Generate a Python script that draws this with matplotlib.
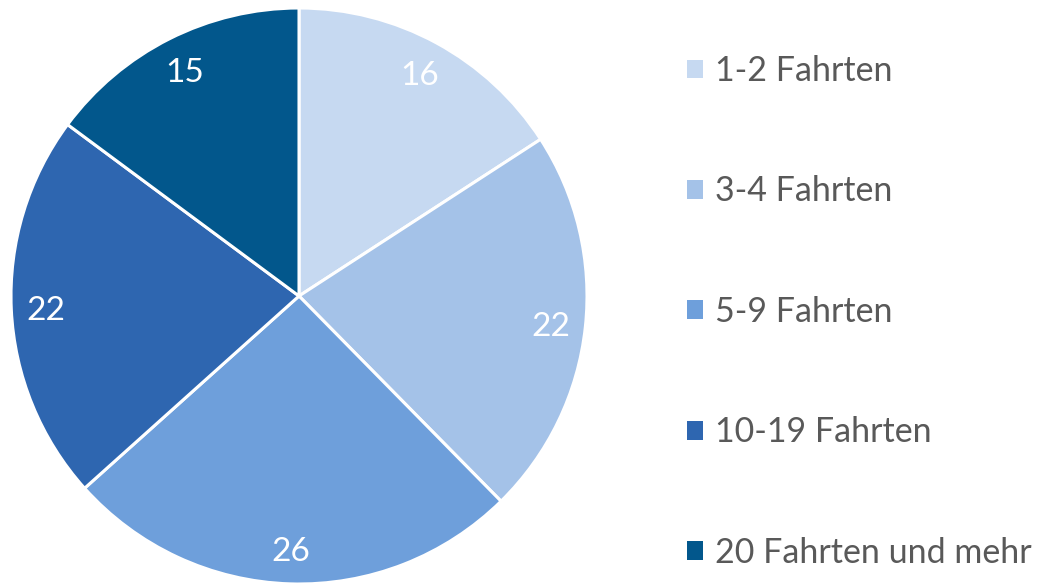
import matplotlib
matplotlib.use("Agg")
import matplotlib.pyplot as plt
from matplotlib.patches import Patch

categories = ["1-2 Fahrten", "3-4 Fahrten", "5-9 Fahrten", "10-19 Fahrten", "20 Fahrten und mehr"]
values = [16, 22, 26, 22, 15]
colors = ["#C6D9F1", "#A4C2E8", "#6E9FDB", "#2E66B0", "#02578C"]

plt.rcParams['font.family'] = ['Lato', 'DejaVu Sans']

W, H = 1039, 584
fig = plt.figure(figsize=(W / 100, H / 100), dpi=100)
cx, cy_top, r = 299, 296, 288
ax = fig.add_axes([(cx - r) / W, (H - cy_top - r) / H, 2 * r / W, 2 * r / H])
wedges, texts = ax.pie(values, colors=colors, startangle=90, counterclock=False,
                       labels=[str(v) for v in values], labeldistance=0.88,
                       wedgeprops=dict(edgecolor="white", linewidth=2.2),
                       textprops=dict(color="white", fontsize=24))
for t in texts:
    t.set_ha("center")
    t.set_va("center_baseline")
ax.set_xlim(-1, 1)
ax.set_ylim(-1, 1)
ax.set_aspect("equal")
ax.axis("off")

handles = [Patch(facecolor=c, edgecolor="none") for c in colors]
leg = fig.legend(handles, categories, loc="upper left",
                 bbox_to_anchor=(687 / W, 1 - 55 / H), frameon=False,
                 fontsize=24.5, labelspacing=2.6, handlelength=0.47, handleheight=0.47,
                 handletextpad=0.35, borderaxespad=0, borderpad=0)
for t in leg.get_texts():
    t.set_color("#595959")

fig.savefig("out.png", dpi=100)
